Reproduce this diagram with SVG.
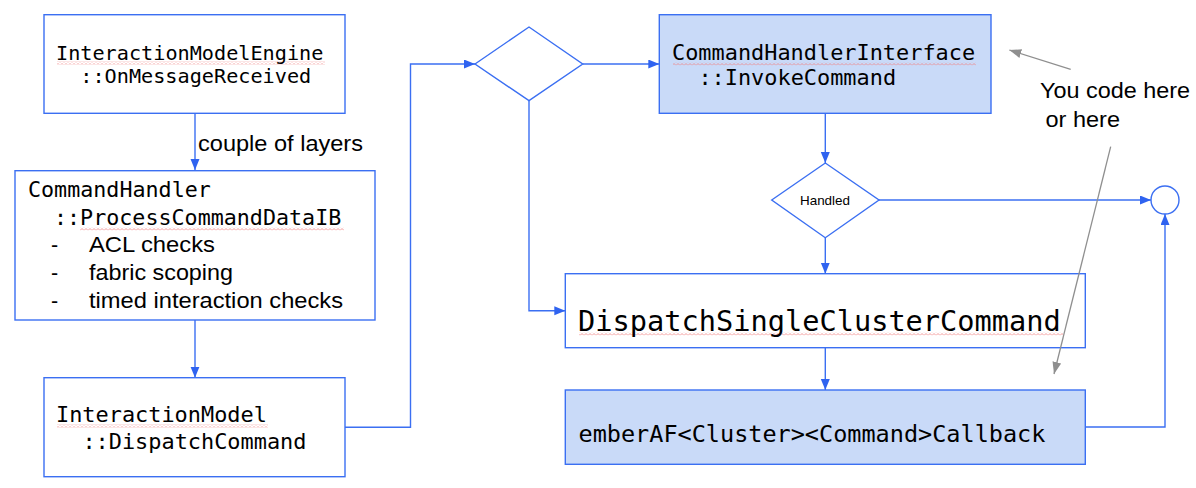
<svg xmlns="http://www.w3.org/2000/svg" width="1196" height="488" viewBox="0 0 1196 488">
<defs>
  <style>
    .box{fill:#ffffff;stroke:#3b6ff2;stroke-width:1.4}
    .boxf{fill:#c9daf8;stroke:#3b6ff2;stroke-width:1.4}
    .dia{fill:#ffffff;stroke:#3b6ff2;stroke-width:1.4}
    .mono{font-family:"DejaVu Sans Mono","Liberation Mono",monospace;fill:#000000}
    .sans{font-family:"Liberation Sans",Arial,sans-serif;fill:#000000}
    .conn{fill:none;stroke:#3b6ff2;stroke-width:1.4}
    .note{fill:none;stroke:#8f8f8f;stroke-width:1.3}
    .sq{fill:url(#squiggle)}
  </style>
  <marker id="ah" markerUnits="userSpaceOnUse" markerWidth="12" markerHeight="10" refX="11" refY="4.5" orient="auto">
    <path d="M0,0 L11,4.5 L0,9 z" fill="#2f63f0"/>
  </marker>
  <marker id="gh" markerUnits="userSpaceOnUse" markerWidth="13" markerHeight="10" refX="12" refY="4.5" orient="auto">
    <path d="M0,0 L12,4.5 L0,9 z" fill="#8f8f8f"/>
  </marker>
  <pattern id="squiggle" patternUnits="userSpaceOnUse" width="4" height="3">
    <polyline points="0,2.5 2,0.5 4,2.5" fill="none" stroke="#f08080" stroke-width="0.8"/>
  </pattern>
</defs>

<g id="connectors">
  <path class="conn" d="M195,113.3 V170" marker-end="url(#ah)"/>
  <path class="conn" d="M195,320 V377.7" marker-end="url(#ah)"/>
  <path class="conn" d="M345,427.3 H410.5 V64 H475" marker-end="url(#ah)"/>
  <path class="conn" d="M582.7,64 H659.3" marker-end="url(#ah)"/>
  <path class="conn" d="M529,100.7 V310.7 H565.3" marker-end="url(#ah)"/>
  <path class="conn" d="M825.3,113.3 V163" marker-end="url(#ah)"/>
  <path class="conn" d="M879,200 H1151" marker-end="url(#ah)"/>
  <path class="conn" d="M825.3,237.7 V273.7" marker-end="url(#ah)"/>
  <path class="conn" d="M825.3,347.7 V390" marker-end="url(#ah)"/>
  <path class="conn" d="M1085.3,427 H1165 V214" marker-end="url(#ah)"/>
</g>

<g id="onMessageReceived">
  <rect class="box" x="44" y="14.7" width="301" height="98.6"/>
  <rect class="sq" x="57" y="61.5" width="268" height="3"/>
  <text class="mono" x="56" y="60" font-size="20.2">InteractionModelEngine</text>
  <text class="mono" x="80.3" y="83" font-size="20.2">::OnMessageReceived</text>
</g>

<g id="label-layers">
  <text class="sans" x="198" y="151" font-size="21.5" textLength="165" lengthAdjust="spacingAndGlyphs">couple of layers</text>
</g>

<g id="processCommandDataIB">
  <rect class="box" x="15" y="170.7" width="360" height="149.3"/>
  <rect class="sq" x="80" y="227.5" width="264" height="3"/>
  <text class="mono" x="28" y="197" font-size="21.7">CommandHandler</text>
  <text class="mono" x="54" y="225" font-size="21.7">::ProcessCommandDataIB</text>
  <text class="sans" x="51" y="252.3" font-size="21.5">-</text>
  <text class="sans" x="89" y="252.3" font-size="21.5" textLength="126" lengthAdjust="spacingAndGlyphs">ACL checks</text>
  <text class="sans" x="51" y="280" font-size="21.5">-</text>
  <text class="sans" x="89" y="280" font-size="21.5" textLength="144" lengthAdjust="spacingAndGlyphs">fabric scoping</text>
  <text class="sans" x="51" y="307.5" font-size="21.5">-</text>
  <text class="sans" x="89" y="307.5" font-size="21.5" textLength="254" lengthAdjust="spacingAndGlyphs">timed interaction checks</text>
</g>

<g id="dispatchCommand">
  <rect class="box" x="44" y="377.7" width="301" height="99"/>
  <rect class="sq" x="57" y="424.5" width="211" height="3"/>
  <text class="mono" x="56" y="422" font-size="21.9">InteractionModel</text>
  <text class="mono" x="82.4" y="449" font-size="21.9">::DispatchCommand</text>
</g>

<g id="decision">
  <polygon class="dia" points="475,64 529,27 582.7,64 529,100.7"/>
</g>

<g id="invokeCommand">
  <rect class="boxf" x="659.3" y="14.7" width="331.7" height="98.6"/>
  <rect class="sq" x="673" y="62.5" width="303" height="3"/>
  <text class="mono" x="672" y="60" font-size="21.9">CommandHandlerInterface</text>
  <text class="mono" x="698.4" y="85" font-size="21.9">::InvokeCommand</text>
</g>

<g id="handled">
  <polygon class="dia" points="771.7,200 825.3,163 879,200 825.3,237.7"/>
  <text class="sans" x="800" y="205" font-size="13" textLength="50" lengthAdjust="spacingAndGlyphs">Handled</text>
</g>

<g id="end">
  <circle cx="1165" cy="200" r="14" fill="#ffffff" stroke="#3b6ff2" stroke-width="1.4"/>
</g>

<g id="dispatchSingleClusterCommand">
  <rect class="box" x="565.3" y="273.7" width="520" height="74"/>
  <rect class="sq" x="579" y="332.5" width="484" height="3"/>
  <text class="mono" x="578" y="331" font-size="28.65">DispatchSingleClusterCommand</text>
</g>

<g id="clusterCallback">
  <rect class="boxf" x="565.3" y="390" width="520" height="74.3"/>
  <text class="mono" x="578.5" y="441.5" font-size="23.5">emberAF&lt;Cluster&gt;&lt;Command&gt;Callback</text>
</g>

<g id="note">
  <text class="sans" x="1040" y="98" font-size="21.5" textLength="150" lengthAdjust="spacingAndGlyphs">You code here</text>
  <text class="sans" x="1045.5" y="126.7" font-size="21.5" textLength="74.5" lengthAdjust="spacingAndGlyphs">or here</text>
</g>

<g id="note-connectors">
  <path class="note" d="M1070.7,69.3 L1009.3,50" marker-end="url(#gh)"/>
  <path class="note" d="M1110.7,146.7 L1054,374" marker-end="url(#gh)"/>
</g>
</svg>
